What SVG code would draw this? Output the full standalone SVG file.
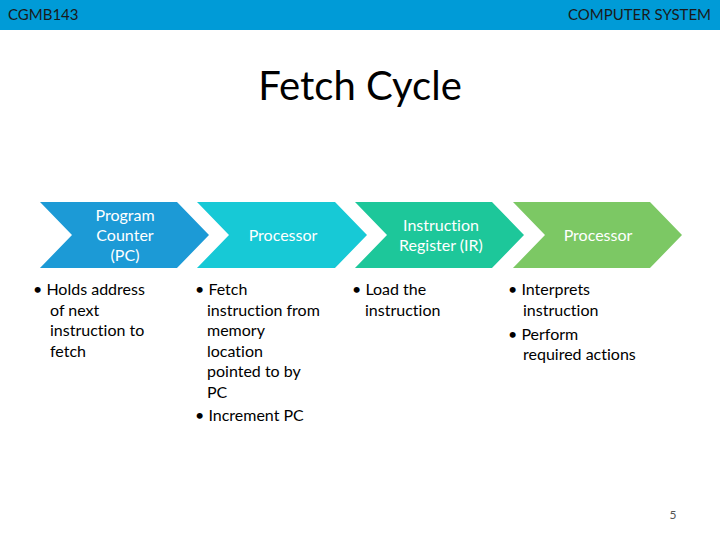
<svg xmlns="http://www.w3.org/2000/svg" width="720" height="540" viewBox="0 0 720 540">
<style>
text{font-variant-ligatures:none}
.hdr{font-family:Lato,"Open Sans","Liberation Sans",sans-serif;font-size:15px;fill:#1a1a1a}
.title{font-family:Lato,"Open Sans","Liberation Sans",sans-serif;font-size:40px;fill:#000}
.lbl{font-family:Lato,"Open Sans","Liberation Sans",sans-serif;font-size:16px;fill:#fff;text-anchor:middle}
.body{font-family:Lato,"Open Sans","Liberation Sans",sans-serif;font-size:16px;fill:#000}
.num{font-family:Lato,"Open Sans","Liberation Sans",sans-serif;font-size:12px;fill:#555}
</style>
<rect width="720" height="540" fill="#fff"/>
<rect x="0" y="0" width="720" height="30" fill="#009BD7"/>
<text class="hdr" x="8" y="20">CGMB143</text>
<text class="hdr" x="711" y="20" text-anchor="end">COMPUTER SYSTEM</text>
<text class="title" x="360" y="100" text-anchor="middle">Fetch Cycle</text>

<g id="node-pc">
<polygon points="40,202 177,202 209,235 177,268 40,268 72,235" fill="#1C9AD6"/>
<text class="lbl" x="125" y="221">Program</text>
<text class="lbl" x="125" y="241">Counter</text>
<text class="lbl" x="125" y="261">(PC)</text>
<text class="body" x="33" y="295">• Holds address</text>
<text class="body" x="50" y="316">of next</text>
<text class="body" x="50" y="336">instruction to</text>
<text class="body" x="50" y="357">fetch</text>
</g>

<g id="node-processor1">
<polygon points="197,202 335,202 367,235 335,268 197,268 229,235" fill="#17C9D6"/>
<text class="lbl" x="283" y="241">Processor</text>
<text class="body" x="195" y="295">• Fetch</text>
<text class="body" x="207" y="316">instruction from</text>
<text class="body" x="207" y="336">memory</text>
<text class="body" x="207" y="357">location</text>
<text class="body" x="207" y="377">pointed to by</text>
<text class="body" x="207" y="398">PC</text>
<text class="body" x="195" y="421">• Increment PC</text>
</g>

<g id="node-ir">
<polygon points="355,202 492,202 524,235 492,268 355,268 387,235" fill="#1DC79A"/>
<text class="lbl" x="441" y="231">Instruction</text>
<text class="lbl" x="441" y="251">Register (IR)</text>
<text class="body" x="352" y="295">• Load the</text>
<text class="body" x="365" y="316">instruction</text>
</g>

<g id="node-processor2">
<polygon points="513,202 650,202 682,235 650,268 513,268 545,235" fill="#7CC864"/>
<text class="lbl" x="598" y="241">Processor</text>
<text class="body" x="508" y="295">• Interprets</text>
<text class="body" x="523" y="316">instruction</text>
<text class="body" x="508" y="340">• Perform</text>
<text class="body" x="523" y="360">required actions</text>
</g>

<g id="connectors"></g>

<text class="num" x="673" y="519" text-anchor="middle">5</text>
</svg>
